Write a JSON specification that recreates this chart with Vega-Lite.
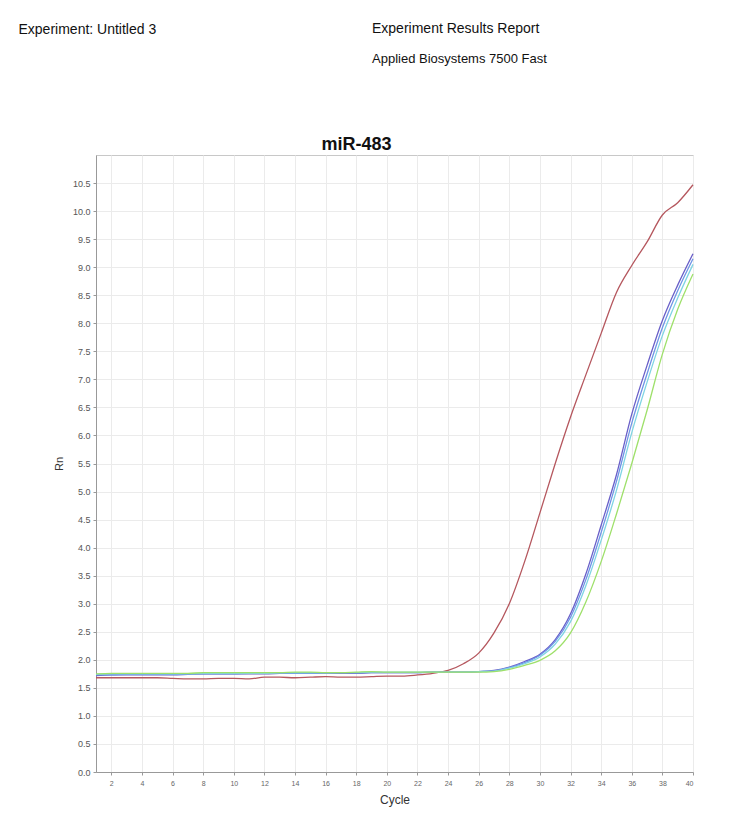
{
  "$schema": "https://vega.github.io/schema/vega-lite/v6.json",
  "width": 597,
  "height": 617,
  "autosize": {"type": "none"},
  "padding": {"left": 96, "top": 155, "right": 62, "bottom": 50},
  "background": "white",
  "config": {
    "font": "Liberation Sans",
    "view": {"stroke": "#c8c8c8", "strokeWidth": 1}
  },
  "title": {
    "text": "Experiment Results Report",
    "subtitle": "Applied Biosystems 7500 Fast",
    "anchor": "start",
    "frame": "group",
    "dx": 276,
    "offset": 0,
    "dy": 44,
    "fontSize": 14,
    "fontWeight": "normal",
    "color": "#111",
    "subtitleFontSize": 13,
    "subtitleColor": "#111",
    "subtitlePadding": 17
  },
  "datasets": {
    "curves": [
      {"c":1,"s":"R","v":1.68},{"c":2,"s":"R","v":1.68},{"c":3,"s":"R","v":1.68},{"c":4,"s":"R","v":1.68},{"c":5,"s":"R","v":1.68},
      {"c":6,"s":"R","v":1.67},{"c":7,"s":"R","v":1.66},{"c":8,"s":"R","v":1.66},{"c":9,"s":"R","v":1.67},{"c":10,"s":"R","v":1.67},
      {"c":11,"s":"R","v":1.66},{"c":12,"s":"R","v":1.69},{"c":13,"s":"R","v":1.69},{"c":14,"s":"R","v":1.68},{"c":15,"s":"R","v":1.69},
      {"c":16,"s":"R","v":1.70},{"c":17,"s":"R","v":1.69},{"c":18,"s":"R","v":1.69},{"c":19,"s":"R","v":1.70},{"c":20,"s":"R","v":1.71},
      {"c":21,"s":"R","v":1.71},{"c":22,"s":"R","v":1.73},{"c":23,"s":"R","v":1.76},{"c":24,"s":"R","v":1.81},{"c":25,"s":"R","v":1.93},
      {"c":26,"s":"R","v":2.12},{"c":27,"s":"R","v":2.48},{"c":28,"s":"R","v":3.00},{"c":29,"s":"R","v":3.75},{"c":30,"s":"R","v":4.62},
      {"c":31,"s":"R","v":5.50},{"c":32,"s":"R","v":6.33},{"c":33,"s":"R","v":7.08},{"c":34,"s":"R","v":7.82},{"c":35,"s":"R","v":8.55},
      {"c":36,"s":"R","v":9.03},{"c":37,"s":"R","v":9.45},{"c":38,"s":"R","v":9.93},{"c":39,"s":"R","v":10.15},{"c":40,"s":"R","v":10.47},

      {"c":1,"s":"P","v":1.72},{"c":2,"s":"P","v":1.73},{"c":3,"s":"P","v":1.73},{"c":4,"s":"P","v":1.73},{"c":5,"s":"P","v":1.73},
      {"c":6,"s":"P","v":1.73},{"c":7,"s":"P","v":1.74},{"c":8,"s":"P","v":1.75},{"c":9,"s":"P","v":1.75},{"c":10,"s":"P","v":1.75},
      {"c":11,"s":"P","v":1.75},{"c":12,"s":"P","v":1.75},{"c":13,"s":"P","v":1.76},{"c":14,"s":"P","v":1.77},{"c":15,"s":"P","v":1.77},
      {"c":16,"s":"P","v":1.76},{"c":17,"s":"P","v":1.76},{"c":18,"s":"P","v":1.76},{"c":19,"s":"P","v":1.77},{"c":20,"s":"P","v":1.77},
      {"c":21,"s":"P","v":1.77},{"c":22,"s":"P","v":1.77},{"c":23,"s":"P","v":1.78},{"c":24,"s":"P","v":1.78},{"c":25,"s":"P","v":1.78},
      {"c":26,"s":"P","v":1.79},{"c":27,"s":"P","v":1.81},{"c":28,"s":"P","v":1.87},{"c":29,"s":"P","v":1.97},{"c":30,"s":"P","v":2.10},
      {"c":31,"s":"P","v":2.36},{"c":32,"s":"P","v":2.82},{"c":33,"s":"P","v":3.53},{"c":34,"s":"P","v":4.40},{"c":35,"s":"P","v":5.30},
      {"c":36,"s":"P","v":6.38},{"c":37,"s":"P","v":7.25},{"c":38,"s":"P","v":8.05},{"c":39,"s":"P","v":8.68},{"c":40,"s":"P","v":9.24},

      {"c":1,"s":"B","v":1.73},{"c":2,"s":"B","v":1.73},{"c":3,"s":"B","v":1.74},{"c":4,"s":"B","v":1.74},{"c":5,"s":"B","v":1.74},
      {"c":6,"s":"B","v":1.74},{"c":7,"s":"B","v":1.75},{"c":8,"s":"B","v":1.75},{"c":9,"s":"B","v":1.75},{"c":10,"s":"B","v":1.75},
      {"c":11,"s":"B","v":1.76},{"c":12,"s":"B","v":1.76},{"c":13,"s":"B","v":1.76},{"c":14,"s":"B","v":1.76},{"c":15,"s":"B","v":1.76},
      {"c":16,"s":"B","v":1.76},{"c":17,"s":"B","v":1.77},{"c":18,"s":"B","v":1.77},{"c":19,"s":"B","v":1.77},{"c":20,"s":"B","v":1.77},
      {"c":21,"s":"B","v":1.77},{"c":22,"s":"B","v":1.77},{"c":23,"s":"B","v":1.78},{"c":24,"s":"B","v":1.78},{"c":25,"s":"B","v":1.78},
      {"c":26,"s":"B","v":1.79},{"c":27,"s":"B","v":1.80},{"c":28,"s":"B","v":1.86},{"c":29,"s":"B","v":1.95},{"c":30,"s":"B","v":2.08},
      {"c":31,"s":"B","v":2.33},{"c":32,"s":"B","v":2.76},{"c":33,"s":"B","v":3.43},{"c":34,"s":"B","v":4.27},{"c":35,"s":"B","v":5.18},
      {"c":36,"s":"B","v":6.22},{"c":37,"s":"B","v":7.10},{"c":38,"s":"B","v":7.92},{"c":39,"s":"B","v":8.58},{"c":40,"s":"B","v":9.15},

      {"c":1,"s":"C","v":1.74},{"c":2,"s":"C","v":1.75},{"c":3,"s":"C","v":1.75},{"c":4,"s":"C","v":1.75},{"c":5,"s":"C","v":1.75},
      {"c":6,"s":"C","v":1.75},{"c":7,"s":"C","v":1.75},{"c":8,"s":"C","v":1.76},{"c":9,"s":"C","v":1.76},{"c":10,"s":"C","v":1.76},
      {"c":11,"s":"C","v":1.76},{"c":12,"s":"C","v":1.76},{"c":13,"s":"C","v":1.77},{"c":14,"s":"C","v":1.77},{"c":15,"s":"C","v":1.77},
      {"c":16,"s":"C","v":1.77},{"c":17,"s":"C","v":1.77},{"c":18,"s":"C","v":1.77},{"c":19,"s":"C","v":1.78},{"c":20,"s":"C","v":1.78},
      {"c":21,"s":"C","v":1.78},{"c":22,"s":"C","v":1.78},{"c":23,"s":"C","v":1.78},{"c":24,"s":"C","v":1.78},{"c":25,"s":"C","v":1.78},
      {"c":26,"s":"C","v":1.79},{"c":27,"s":"C","v":1.80},{"c":28,"s":"C","v":1.85},{"c":29,"s":"C","v":1.93},{"c":30,"s":"C","v":2.05},
      {"c":31,"s":"C","v":2.28},{"c":32,"s":"C","v":2.68},{"c":33,"s":"C","v":3.32},{"c":34,"s":"C","v":4.13},{"c":35,"s":"C","v":5.02},
      {"c":36,"s":"C","v":6.05},{"c":37,"s":"C","v":6.95},{"c":38,"s":"C","v":7.78},{"c":39,"s":"C","v":8.45},{"c":40,"s":"C","v":9.05},

      {"c":1,"s":"G","v":1.75},{"c":2,"s":"G","v":1.76},{"c":3,"s":"G","v":1.76},{"c":4,"s":"G","v":1.76},{"c":5,"s":"G","v":1.76},
      {"c":6,"s":"G","v":1.76},{"c":7,"s":"G","v":1.76},{"c":8,"s":"G","v":1.77},{"c":9,"s":"G","v":1.77},{"c":10,"s":"G","v":1.77},
      {"c":11,"s":"G","v":1.77},{"c":12,"s":"G","v":1.77},{"c":13,"s":"G","v":1.77},{"c":14,"s":"G","v":1.78},{"c":15,"s":"G","v":1.78},
      {"c":16,"s":"G","v":1.77},{"c":17,"s":"G","v":1.77},{"c":18,"s":"G","v":1.78},{"c":19,"s":"G","v":1.79},{"c":20,"s":"G","v":1.78},
      {"c":21,"s":"G","v":1.78},{"c":22,"s":"G","v":1.78},{"c":23,"s":"G","v":1.78},{"c":24,"s":"G","v":1.78},{"c":25,"s":"G","v":1.78},
      {"c":26,"s":"G","v":1.78},{"c":27,"s":"G","v":1.79},{"c":28,"s":"G","v":1.83},{"c":29,"s":"G","v":1.90},{"c":30,"s":"G","v":1.99},
      {"c":31,"s":"G","v":2.16},{"c":32,"s":"G","v":2.48},{"c":33,"s":"G","v":3.03},{"c":34,"s":"G","v":3.75},{"c":35,"s":"G","v":4.60},
      {"c":36,"s":"G","v":5.50},{"c":37,"s":"G","v":6.45},{"c":38,"s":"G","v":7.45},{"c":39,"s":"G","v":8.25},{"c":40,"s":"G","v":8.88}
    ]
  },
  "data": {"name": "curves"},
  "resolve": {"axis": {"x": "independent", "y": "independent"}},
  "layer": [
    {
      "mark": {"type": "line", "strokeWidth": 1.3, "interpolate": "monotone"},
      "encoding": {
        "x": {
          "field": "c", "type": "quantitative",
          "scale": {"domain": [1, 40], "nice": false, "zero": false},
          "axis": {
            "values": [2,4,6,8,10,12,14,16,18,20,22,24,26,28,30,32,34,36,38,40],
            "labelFontSize": 7, "labelColor": "#666", "labelPadding": 4,
            "tickSize": 3, "tickColor": "#999", "domainColor": "#999",
            "gridColor": "#ebebeb", "grid": true,
            "title": "Cycle", "titleFontSize": 12, "titleFontWeight": "normal",
            "titleColor": "#333", "titlePadding": 8
          }
        },
        "y": {
          "field": "v", "type": "quantitative",
          "scale": {"domain": [0, 11], "nice": false},
          "axis": {
            "values": [0,0.5,1,1.5,2,2.5,3,3.5,4,4.5,5,5.5,6,6.5,7,7.5,8,8.5,9,9.5,10,10.5],
            "format": ".1f",
            "labelFontSize": 9, "labelColor": "#555", "labelPadding": 3,
            "tickSize": 3, "tickColor": "#999", "domainColor": "#999",
            "gridColor": "#ebebeb", "grid": true,
            "title": "Rn", "titleFontSize": 11, "titleFontWeight": "normal",
            "titleColor": "#333", "titlePadding": 8
          }
        },
        "color": {
          "field": "s", "type": "nominal",
          "scale": {"domain": ["R","P","B","C","G"], "range": ["#b5575e","#6a5fc8","#6f94e6","#7fd4e3","#9ee06a"]},
          "legend": null
        }
      }
    },
    {
      "mark": {"type": "point", "opacity": 0},
      "encoding": {
        "x": {
          "field": "c", "type": "quantitative",
          "axis": {
            "orient": "top", "labels": false, "ticks": false, "domain": false, "grid": false,
            "title": "miR-483", "titleFontSize": 18, "titleFontWeight": "bold", "titleColor": "#111",
            "titleX": 260, "titleY": -6, "titleAlign": "center", "titleBaseline": "alphabetic"
          }
        },
        "y": {
          "field": "v", "type": "quantitative",
          "axis": {
            "orient": "right", "labels": false, "ticks": false, "domain": false, "grid": false,
            "title": "Experiment: Untitled 3", "titleFontSize": 14, "titleFontWeight": "normal", "titleColor": "#111",
            "titleAngle": 0, "titleX": -675, "titleY": -122, "titleAlign": "left", "titleBaseline": "alphabetic"
          }
        }
      }
    }
  ]
}
